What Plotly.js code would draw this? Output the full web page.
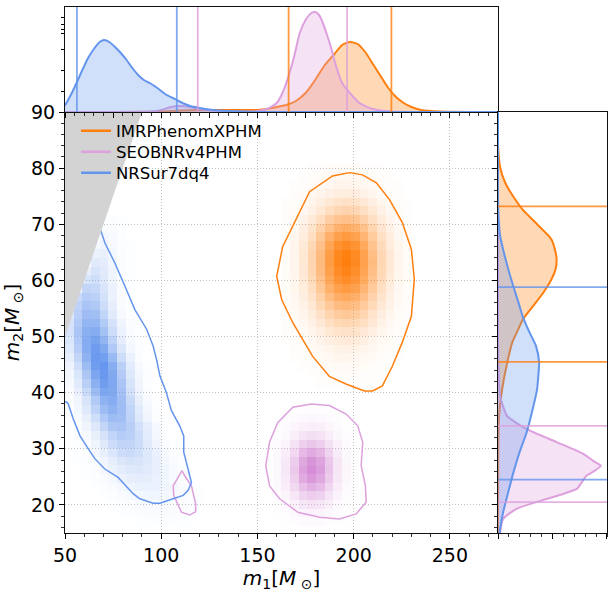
<!DOCTYPE html>
<html><head><meta charset="utf-8">
<script src="https://cdn.plot.ly/plotly-3.0.1.min.js"></script>
<style>html,body{margin:0;padding:0;background:#fff}#plot{width:613px;height:593px}</style>
</head><body><div id="plot"></div>
<script>
// ---------------- data ----------------
const SERIES = ['IMRPhenomXPHM', 'SEOBNRv4PHM', 'NRSur7dq4'];
const COLORS = ['#ff7f0e', '#dda0dd', '#6495ed'];
const M1_RANGE = [50, 275];
const M2_RANGE = [15, 90];
const M1_BIN = 4.5, M2_BIN = 1.54;

// 2D histograms (relative counts, 0-100), rows = m2 bins (bottom->top), cols = m1 bins
const IMR_M1_START = 164.75, IMR_M2_START = 41.64;
const IMR_HIST = [
 [0,0,0,0,1,1,1,1,1,1,1,0,0,0,0],
 [0,0,0,1,1,2,2,2,2,1,1,1,0,0,0],
 [0,0,1,1,2,3,4,4,4,3,2,1,1,0,0],
 [0,1,1,2,4,5,7,7,6,5,4,2,1,1,0],
 [0,1,2,4,6,8,10,11,10,8,6,3,2,1,0],
 [1,1,3,5,9,12,15,16,15,12,8,5,3,1,0],
 [1,2,4,8,12,18,22,23,21,17,12,7,4,2,1],
 [1,3,6,11,17,25,30,32,29,24,17,10,5,2,1],
 [1,4,8,14,23,33,40,43,40,32,22,13,7,3,1],
 [2,5,10,18,30,42,52,55,51,41,29,17,9,4,2],
 [2,6,12,22,36,52,63,67,62,50,35,21,11,5,2],
 [3,7,14,26,43,61,74,79,73,58,41,24,13,6,2],
 [3,7,16,29,48,69,84,89,82,66,46,28,15,7,3],
 [3,8,17,32,52,74,90,96,88,71,50,30,16,7,3],
 [3,8,18,33,54,77,94,100,92,74,52,31,17,8,3],
 [3,8,18,33,53,76,93,99,91,73,51,31,17,8,3],
 [3,8,16,30,49,70,86,91,84,67,47,28,15,7,3],
 [3,7,14,26,43,61,74,79,73,58,41,24,13,6,2],
 [2,5,12,21,35,49,60,64,59,47,33,20,11,5,2],
 [2,4,9,16,26,38,46,49,45,36,25,15,8,4,1],
 [1,3,6,11,18,26,32,34,31,25,18,11,6,3,1],
 [1,2,4,8,12,18,22,23,21,17,12,7,4,2,1],
 [0,1,3,5,8,11,13,14,13,10,7,4,2,1,0],
 [0,1,1,3,4,6,8,8,7,6,4,2,1,1,0],
 [0,0,1,2,3,4,5,5,5,4,3,2,1,0,0],
 [0,0,0,1,1,2,2,2,2,1,1,1,0,0,0]
];
const SEOB_M1_START = 160.25, SEOB_M2_START = 17.0;
const SEOB_HIST = [
 [0,1,3,5,6,5,3,2,1,0,0],
 [1,3,7,12,14,12,8,4,1,0,0],
 [2,7,15,24,29,25,16,7,2,1,0],
 [4,11,25,41,49,43,27,12,4,1,0],
 [5,17,37,60,72,63,40,18,6,2,0],
 [7,21,46,76,91,79,50,23,8,2,0],
 [7,23,51,84,100,87,55,25,9,2,0],
 [7,22,48,79,94,82,52,24,8,2,0],
 [6,18,39,65,77,67,42,19,7,2,0],
 [4,12,28,45,54,47,30,14,5,1,0],
 [2,7,16,27,32,28,18,8,3,1,0],
 [1,4,9,14,17,15,9,4,1,0,0],
 [1,2,4,7,8,7,4,2,1,0,0],
 [0,1,2,3,3,3,2,1,0,0,0]
];
const NRS_M1_START = 52.25, NRS_M2_START = 17.0;
const NRS_HIST = [
 [0,0,0,0,0,0,0,0,1,1,2,2,2,1,1,0],
 [0,0,0,0,0,0,1,2,3,4,4,4,3,2,2,1],
 [0,0,0,0,0,1,2,3,5,6,6,6,4,3,2,1],
 [0,0,0,0,1,2,4,6,7,9,9,8,6,4,2,1],
 [0,0,0,1,2,4,7,10,12,13,12,10,7,4,2,1],
 [0,0,1,2,4,8,12,15,17,16,13,9,5,3,1,0],
 [0,0,1,3,7,12,17,21,22,19,14,9,5,2,1,0],
 [0,1,2,5,9,16,23,27,26,21,14,8,4,1,0,0],
 [0,1,3,7,15,24,32,34,30,21,12,6,2,1,0,0],
 [0,1,4,10,20,32,40,40,32,20,10,4,1,0,0,0],
 [0,2,6,14,27,40,48,44,32,18,8,2,0,0,0,0],
 [1,3,10,22,39,53,55,45,29,15,6,2,0,0,0,0],
 [1,5,14,31,51,63,60,42,22,9,3,1,0,0,0,0],
 [2,8,21,42,63,72,62,40,19,7,2,0,0,0,0,0],
 [2,9,25,50,73,78,61,35,14,5,1,0,0,0,0,0],
 [4,14,35,64,84,81,58,29,11,3,0,0,0,0,0,0],
 [6,19,44,74,92,82,54,26,9,2,0,0,0,0,0,0],
 [8,24,53,84,97,81,49,22,7,2,0,0,0,0,0,0],
 [11,31,63,92,99,77,44,18,6,1,0,0,0,0,0,0],
 [16,39,72,95,91,65,33,13,3,0,0,0,0,0,0,0],
 [21,47,78,93,81,51,23,7,2,0,0,0,0,0,0,0],
 [24,51,78,87,70,41,17,5,1,0,0,0,0,0,0,0],
 [27,54,75,78,59,32,13,4,1,0,0,0,0,0,0,0],
 [27,50,69,69,50,27,10,3,1,0,0,0,0,0,0,0],
 [23,45,62,60,40,19,6,1,0,0,0,0,0,0,0,0],
 [22,41,55,51,33,15,4,1,0,0,0,0,0,0,0,0],
 [0,35,47,43,28,12,4,1,0,0,0,0,0,0,0,0],
 [0,10,39,37,25,12,4,1,0,0,0,0,0,0,0,0],
 [0,0,25,31,21,10,3,1,0,0,0,0,0,0,0,0],
 [0,0,14,26,20,10,3,1,0,0,0,0,0,0,0,0],
 [0,0,4,20,17,9,3,1,0,0,0,0,0,0,0,0],
 [0,0,0,12,14,8,3,1,0,0,0,0,0,0,0,0],
 [0,0,0,6,10,6,2,1,0,0,0,0,0,0,0,0],
 [0,0,0,2,7,5,2,0,0,0,0,0,0,0,0,0],
 [0,0,0,0,4,3,1,0,0,0,0,0,0,0,0,0],
 [0,0,0,0,1,2,1,0,0,0,0,0,0,0,0,0]
];

// 90% credible contours (m1, m2)
const IMR_CONTOUR_M1 = [197.8,189.0,177.1,169.3,163.1,160.0,162.6,168.3,178.6,187.4,196.3,205.6,209.8,214.9,220.1,225.3,230.0,231.5,230.0,225.3,218.6,211.8,204.6,197.8];
const IMR_CONTOUR_M2 = [79.2,78.6,75.8,70.5,66.0,60.7,56.6,52.5,46.5,42.9,41.5,40.3,40.3,41.2,44.7,49.0,53.6,60.2,65.5,70.3,74.4,77.4,78.8,79.2];
const SEOB_CONTOUR_M1 = [178.0,168.4,160.6,156.3,154.3,156.3,161.5,171.0,182.3,192.6,201.3,206.5,206.1,203.9,204.7,202.1,196.1,187.4,178.0];
const SEOB_CONTOUR_M2 = [38.0,37.4,34.7,31.2,27.0,23.4,21.1,18.7,17.8,17.5,18.4,20.5,23.4,27.0,31.2,34.1,36.2,37.7,38.0];
const SEOB_ISLAND_M1 = [110.8,106.2,106.5,110.5,114.8,117.9,117.9,115.7,112.2,110.8];
const SEOB_ISLAND_M2 = [26.1,23.4,21.7,18.7,18.2,18.8,20.2,23.4,25.2,26.1];
const NRS_CONTOUR_M1 = [48,60,66,69.0,70.7,75.9,81.1,86.3,92.4,95.8,97.6,99.3,102.7,105.3,109.6,111.7,111.7,114.0,115.7,114.0,111.4,106.2,99.3,95.8,88.9,85.4,81.1,77.6,70.7,65.6,62.1,57.8,54.3,51.7,50.9,47];
const NRS_CONTOUR_M2 = [80,76,71,68.5,66.7,63.1,59.0,54.8,51.3,48.3,45.9,43.0,40.0,36.8,34.1,32.3,29.4,26.4,24.0,22.6,21.7,21.1,20.3,20.3,21.1,22.0,23.7,24.9,26.4,28.2,30.0,32.3,35.3,38.0,38.3,38.6];

// marginal densities (relative)
const IMR_M1_GRID = [50,100,110,120,130,140,150,155,160,165,170,175,180,185,190,194,198,202,206,210,214,218,222,226,230,235,245,275];
const IMR_M1_DENS = [0,0.005,0.015,0.02,0.02,0.02,0.02,0.03,0.05,0.07,0.11,0.19,0.32,0.47,0.58,0.67,0.70,0.68,0.60,0.48,0.36,0.24,0.15,0.09,0.05,0.02,0.005,0];
const SEOB_M1_GRID = [50,95,100,105,110,115,120,130,140,150,155,160,163,166,169,172,175,178,180,182,184,186,188,191,194,198,203,210,220,275];
const SEOB_M1_DENS = [0,0.005,0.02,0.05,0.06,0.05,0.03,0.01,0.005,0.01,0.03,0.09,0.19,0.35,0.55,0.79,0.92,0.99,1.0,0.97,0.89,0.78,0.66,0.45,0.29,0.19,0.09,0.03,0.005,0];
const NRS_M1_GRID = [46,50,53,56,59,62,65,68,70.5,73,76,79,82,85,88,91,94,98,102,106,110,115,120,127,135,150,275];
const NRS_M1_DENS = [0.02,0.07,0.17,0.29,0.42,0.54,0.63,0.70,0.72,0.70,0.65,0.59,0.52,0.44,0.37,0.32,0.29,0.24,0.18,0.14,0.10,0.06,0.04,0.02,0.01,0,0];

const IMR_M2_GRID = [90,85,82.7,80.2,77.4,74.9,72.6,70,67.3,65,63.7,62,60.2,57.8,55.4,53,51,49,45.4,40.6,35.8,30,15];
const IMR_M2_DENS = [0,0,0.005,0.02,0.07,0.15,0.24,0.38,0.52,0.56,0.57,0.56,0.52,0.44,0.34,0.24,0.19,0.14,0.09,0.04,0.01,0.003,0];
const SEOB_M2_GRID = [90,50,45,42,39.4,37.5,35.8,33.5,31.2,29.1,27.8,27,26.2,25.2,23.9,22.9,22,21.1,19.3,17.5,15];
const SEOB_M2_DENS = [0,0,0.005,0.01,0.02,0.05,0.09,0.28,0.57,0.83,0.93,1.0,0.95,0.86,0.81,0.77,0.64,0.48,0.18,0.05,0.02];
const NRS_M2_GRID = [90,75,71.4,68,65.5,62,58.9,56,53.6,51,48.3,45.4,42.5,40.6,36.5,33,29.4,25.8,22.3,18.7,15.7,15];
const NRS_M2_DENS = [0,0,0.005,0.02,0.05,0.10,0.15,0.20,0.24,0.30,0.37,0.40,0.39,0.38,0.33,0.28,0.21,0.15,0.10,0.05,0.02,0.015];

// 90% credible intervals
const M1_CI = [[166.2, 219.6], [119.0, 196.6], [56.2, 108.1]];
const M2_CI = [[45.5, 73.2], [20.5, 34.1], [24.5, 58.8]];

// ---------------- figure ----------------
const W = 613, H = 593;
const X_MAIN = [65 / W, 498 / W], X_RIGHT = [498 / W, 607 / W];
const Y_MAIN = [1 - 533 / H, 1 - 112 / H], Y_TOP = [1 - 112 / H, 1 - 7 / H];
const LEGEND_ROWS = [131, 152, 173];
const FONT = 'DejaVu Sans';

function rgba(hex, a) {
  const n = parseInt(hex.slice(1), 16);
  return `rgba(${(n >> 16) & 255},${(n >> 8) & 255},${n & 255},${a})`;
}
function heat(z, x0, y0, color, peak) {
  return {type: 'heatmap', z: z, x0: x0, dx: M1_BIN, y0: y0, dy: M2_BIN,
    xaxis: 'x', yaxis: 'y', zmin: 0, zmax: 100, zsmooth: false, showscale: false,
    hoverinfo: 'skip', colorscale: [[0, rgba(color, 0)], [1, peak || rgba(color, 1)]]};
}
function line(x, y, color, w) {
  return {type: 'scatter', mode: 'lines', x: x, y: y, xaxis: 'x', yaxis: 'y',
    line: {color: color, width: w || 1.5}, showlegend: false, hoverinfo: 'skip'};
}

const data = [
  heat(IMR_HIST, IMR_M1_START, IMR_M2_START, COLORS[0]),
  heat(SEOB_HIST, SEOB_M1_START, SEOB_M2_START, COLORS[1], 'rgba(214,140,214,1)'),
  heat(NRS_HIST, NRS_M1_START, NRS_M2_START, COLORS[2]),
  line(IMR_CONTOUR_M1, IMR_CONTOUR_M2, COLORS[0]),
  line(SEOB_CONTOUR_M1, SEOB_CONTOUR_M2, COLORS[1]),
  line(SEOB_ISLAND_M1, SEOB_ISLAND_M2, COLORS[1]),
  line(NRS_CONTOUR_M1, NRS_CONTOUR_M2, COLORS[2]),
  // excluded region m2 > m1
  {type: 'scatter', mode: 'lines', x: [M1_RANGE[0], M2_RANGE[1], M1_RANGE[0], M1_RANGE[0]],
   y: [M1_RANGE[0], M2_RANGE[1], M2_RANGE[1], M1_RANGE[0]], fill: 'toself', fillcolor: '#d3d3d3',
   line: {width: 0, color: '#d3d3d3'}, xaxis: 'x', yaxis: 'y', showlegend: false, hoverinfo: 'skip'}
];
// legend entries (one legend per row for exact spacing)
const LEGEND_IDS = ['legend', 'legend2', 'legend3'];
SERIES.forEach((s, i) => data.push({type: 'scatter', mode: 'lines', x: [null], y: [null], name: s,
  legend: LEGEND_IDS[i], showlegend: true, line: {color: COLORS[i], width: 2.6}, xaxis: 'x', yaxis: 'y'}));

const M1G = [IMR_M1_GRID, SEOB_M1_GRID, NRS_M1_GRID], M1D = [IMR_M1_DENS, SEOB_M1_DENS, NRS_M1_DENS];
const M2G = [IMR_M2_GRID, SEOB_M2_GRID, NRS_M2_GRID], M2D = [IMR_M2_DENS, SEOB_M2_DENS, NRS_M2_DENS];
SERIES.forEach((s, i) => {
  data.push({type: 'scatter', mode: 'lines', x: M1G[i], y: M1D[i], xaxis: 'x2', yaxis: 'y2',
    fill: 'tozeroy', fillcolor: rgba(COLORS[i], 0.3), line: {color: COLORS[i], width: 2, shape: 'spline', smoothing: 0.6},
    showlegend: false, hoverinfo: 'skip'});
  data.push({type: 'scatter', mode: 'lines', x: M2D[i], y: M2G[i], xaxis: 'x3', yaxis: 'y3',
    fill: 'tozerox', fillcolor: rgba(COLORS[i], 0.3), line: {color: COLORS[i], width: 2, shape: 'spline', smoothing: 0.6},
    showlegend: false, hoverinfo: 'skip'});
});

const shapes = [];
SERIES.forEach((s, i) => {
  M1_CI[i].forEach(v => shapes.push({type: 'line', xref: 'x2', yref: 'y2 domain', x0: v, x1: v, y0: 0, y1: 1,
    line: {color: COLORS[i], width: 1.8}, opacity: 0.8}));
  M2_CI[i].forEach(v => shapes.push({type: 'line', xref: 'x3 domain', yref: 'y3', x0: 0, x1: 1, y0: v, y1: v,
    line: {color: COLORS[i], width: 1.8}, opacity: 0.8}));
});

const TK = '#000';
const base = {showline: true, linecolor: '#111', linewidth: 1.1, zeroline: false, ticks: 'outside',
  ticklen: 5, tickwidth: 1, tickcolor: TK, fixedrange: true};
const minorT = d => ({dtick: d, ticks: 'outside', ticklen: 3, tickwidth: 0.8, tickcolor: TK, showgrid: false});
const GRID = {showgrid: true, gridcolor: '#b3b3b3', griddash: '1px,2px', gridwidth: 0.8};

const layout = {
  width: W, height: H, margin: {l: 0, r: 0, t: 0, b: 0},
  paper_bgcolor: '#fff', plot_bgcolor: 'rgba(0,0,0,0)',
  font: {family: FONT, color: '#000'},
  showlegend: true,
  xaxis: Object.assign({}, base, GRID, {domain: X_MAIN, anchor: 'y', range: M1_RANGE, tick0: 50, dtick: 50,
    minor: minorT(10),
    tickfont: {size: 19}, title: {text: '<i>m</i><sub>1</sub>[<i>M</i><sub> ⊙</sub>]', font: {size: 20}, standoff: 4}}),
  yaxis: Object.assign({}, base, GRID, {domain: Y_MAIN, anchor: 'x', range: M2_RANGE, tick0: 0, dtick: 10,
    minor: minorT(2),
    tickfont: {size: 19}, title: {text: '<i>m</i><sub>2</sub>[<i>M</i><sub> ⊙</sub>]', font: {size: 20}, standoff: 6}}),
  xaxis2: Object.assign({}, base, {domain: X_MAIN, anchor: 'y2', range: M1_RANGE, tick0: 50, dtick: 25,
    minor: minorT(5), showticklabels: false, mirror: true, showgrid: false}),
  yaxis2: Object.assign({}, base, {domain: Y_TOP, anchor: 'x2', range: [0, 1.05], tickmode: 'array',
    tickvals: [0.21, 0.42, 0.63, 0.79, 0.83, 0.88, 0.95], ticklen: 3, showticklabels: false, mirror: true, showgrid: false}),
  xaxis3: Object.assign({}, base, {domain: X_RIGHT, anchor: 'y3', range: [0, 1.06], tickmode: 'array',
    tickvals: [0, 0.53, 1.0599], minor: Object.assign(minorT(0.106), {tick0: 0}), showticklabels: false, mirror: true, showgrid: false}),
  yaxis3: Object.assign({}, base, {domain: Y_MAIN, anchor: 'x3', range: M2_RANGE, tick0: 0, dtick: 10,
    minor: minorT(2), showticklabels: false, mirror: true, showgrid: false}),
  shapes: shapes
};
LEGEND_IDS.forEach((id, i) => {
  layout[id] = {x: 76 / W, y: 1 - LEGEND_ROWS[i] / H, xanchor: 'left', yanchor: 'middle',
    bgcolor: 'rgba(0,0,0,0)', borderwidth: 0, font: {family: FONT, size: 16.5, color: '#000'}};
});

Plotly.newPlot('plot', data, layout, {staticPlot: true, displayModeBar: false});
</script></body></html>
